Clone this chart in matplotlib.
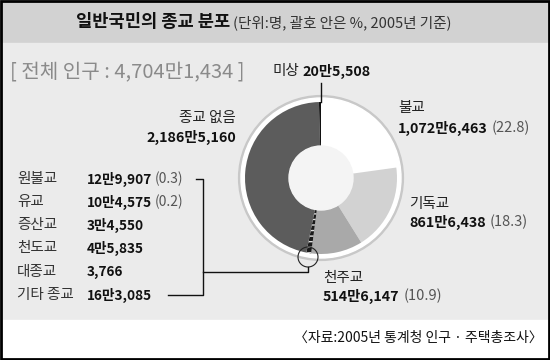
import matplotlib
matplotlib.use("Agg")
import matplotlib.pyplot as plt
from matplotlib.patches import Rectangle, Circle

plt.rcParams['font.family'] = ['Noto Sans CJK KR', 'DejaVu Sans']

# ---- data ----
pie_labels = ['불교', '기독교', '천주교', '기타(소수 종교)', '종교 없음', '미상']
pie_values = [10726463, 8616438, 5146147, 481718, 21865160, 205508]
pie_colors = ['#ffffff', '#d2d2d2', '#a9a9a9', '#1a1a1a', '#5c5c5c', '#111111']

minor_names = ['원불교', '유교', '증산교', '천도교', '대종교', '기타 종교']
minor_values = ['12만9,907', '10만4,575', '3만4,550', '4만5,835', '3,766', '16만3,085']
minor_pcts = ['(0.3)', '(0.2)', '', '', '', '']

title = '일반국민의 종교 분포'
subtitle = '(단위:명, 괄호 안은 %, 2005년 기준)'
total_text = '[ 전체 인구 : 4,704만1,434 ]'
source = '〈자료:2005년 통계청 인구 · 주택총조사〉'

W, H = 550, 360
fig = plt.figure(figsize=(W / 100, H / 100), dpi=100)

# background axes in pixel coords
bg = fig.add_axes([0, 0, 1, 1])
bg.set_xlim(0, W)
bg.set_ylim(H, 0)
bg.axis('off')
bg.add_patch(Rectangle((0, 0), W, 43, color='#d2d2d2', zorder=0))
bg.add_patch(Rectangle((0, 43), W, 277, color='#ebebeb', zorder=0))
bg.add_patch(Rectangle((0, 320), W, 40, color='#ffffff', zorder=0))

# pie axes
cx, cy, R = 321, 178, 80
pax = fig.add_axes([(cx - 100) / W, (H - cy - 100) / H, 200 / W, 200 / H])
pax.add_patch(Circle((0, 0), 1.03, color='#c8c8c8', zorder=0))
pax.add_patch(Circle((0, 0), 1.0, color='#ffffff', zorder=1))
wedges, _ = pax.pie(pie_values, colors=pie_colors, startangle=90, counterclock=False,
                    radius=0.95, wedgeprops=dict(width=0.55, linewidth=0),
                    frame=True)
pax.set_xlim(-1.25, 1.25)
pax.set_ylim(-1.25, 1.25)
pax.set_aspect('auto')
pax.axis('off')
for w in wedges:
    w.set_zorder(2)
wedges[3].set_hatch('---')
wedges[3].set_edgecolor('#dddddd')
wedges[3].set_linewidth(0)
pax.add_patch(Circle((0, 0), 0.40, color='#f4f4f4', zorder=3))

# overlay axes for text and lines
ov = fig.add_axes([0, 0, 1, 1])
ov.set_xlim(0, W)
ov.set_ylim(H, 0)
ov.axis('off')
ov.patch.set_alpha(0)

renderer = fig.canvas.get_renderer()


def after(t, gap=4):
    bb = t.get_window_extent(renderer=renderer)
    inv = ov.transData.inverted()
    return inv.transform((bb.x1, 0))[0] + gap


t = ov.text(76, 22, title, fontsize=12.7, fontweight='bold', ha='left', va='center', color='#111')
ov.text(after(t, 3), 23, subtitle, fontsize=10.5, ha='left', va='center', color='#333')

ov.text(10, 73, total_text, fontsize=14.5, ha='left', va='center', color='#8a8a8a')

NAME_FS = 10.5
NUM_FS = 10.3
LNUM_FS = 9.8

# 미상
t = ov.text(272, 71, '미상', fontsize=NAME_FS, ha='left', va='center', color='#222')
ov.text(after(t, 4), 71, '20만5,508', fontsize=NUM_FS, fontweight='bold', ha='left', va='center', color='#111')
ov.plot([cx - 0.5, cx - 0.5], [83, 102], color='#111', lw=1)

# 종교 없음
ov.text(236, 118, '종교 없음', fontsize=NAME_FS, ha='right', va='center', color='#222')
ov.text(236, 137, '2,186만5,160', fontsize=NUM_FS, fontweight='bold', ha='right', va='center', color='#111')

# 불교
ov.text(398, 108, '불교', fontsize=NAME_FS, ha='left', va='center', color='#222')
t = ov.text(398, 128, '1,072만6,463', fontsize=NUM_FS, fontweight='bold', ha='left', va='center', color='#111')
ov.text(after(t, 4), 128, '(22.8)', fontsize=NAME_FS, ha='left', va='center', color='#555')

# 기독교
ov.text(409, 204, '기독교', fontsize=NAME_FS, ha='left', va='center', color='#222')
t = ov.text(409, 222, '861만6,438', fontsize=NUM_FS, fontweight='bold', ha='left', va='center', color='#111')
ov.text(after(t, 4), 222, '(18.3)', fontsize=NAME_FS, ha='left', va='center', color='#555')

# 천주교
ov.text(323, 278, '천주교', fontsize=NAME_FS, ha='left', va='center', color='#222')
t = ov.text(323, 296, '514만6,147', fontsize=NUM_FS, fontweight='bold', ha='left', va='center', color='#111')
ov.text(after(t, 4), 296, '(10.9)', fontsize=NAME_FS, ha='left', va='center', color='#555')

# minor religions list
row_y = [179, 202, 225, 248, 272, 295]
for y, n, v, p in zip(row_y, minor_names, minor_values, minor_pcts):
    ov.text(17, y, n, fontsize=NAME_FS, ha='left', va='center', color='#333')
    t = ov.text(87, y, v, fontsize=LNUM_FS, fontweight='bold', ha='left', va='center', color='#111')
    if p:
        ov.text(after(t, 3), y, p, fontsize=NAME_FS - 0.5, ha='left', va='center', color='#555')

# bracket
ov.plot([196, 203, 203, 168], [179, 179, 295, 295], color='#111', lw=1)
ov.plot([203, 308, 308], [272, 272, 267], color='#111', lw=1)
ov.add_patch(Circle((308, 257), 10, fill=False, edgecolor='#222', lw=0.8))

# source
ov.text(543, 338, source, fontsize=10, ha='right', va='center', color='#111')

# border
ov.add_patch(Rectangle((1, 1), W - 2, H - 2, fill=False, edgecolor='#000', lw=2))

fig.savefig('out.png', dpi=100)
